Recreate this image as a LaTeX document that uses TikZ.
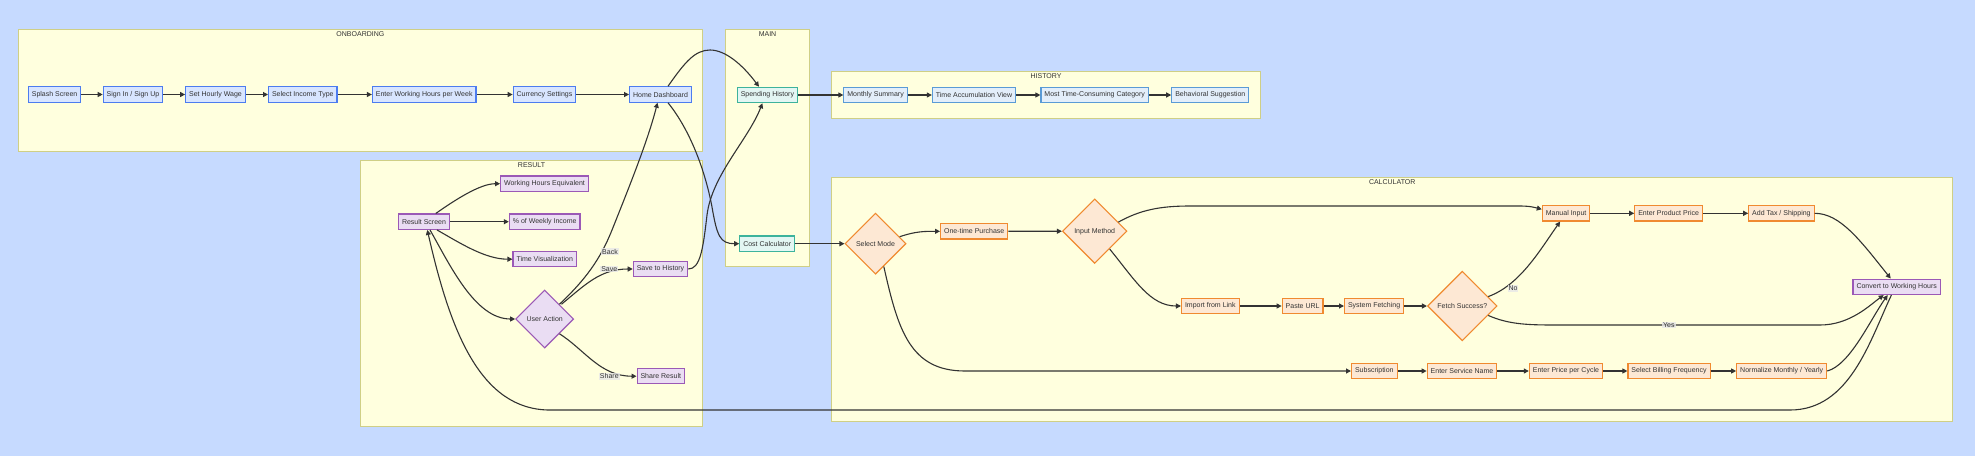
\documentclass[tikz,border=0pt]{standalone}
\usepackage{fontspec}
\setmainfont{Liberation Sans}
\usepackage{tikz}
\usetikzlibrary{arrows.meta}
\usetikzlibrary{shapes.geometric}
\definecolor{bgblue}{HTML}{C6DAFF}
\definecolor{clusterfill}{HTML}{FFFFDE}
\definecolor{clusterline}{HTML}{CFCF86}
\definecolor{textgrey}{HTML}{333333}
\definecolor{onbfill}{HTML}{D8E5FF}
\definecolor{onbline}{HTML}{4C7CF0}
\definecolor{mainfill}{HTML}{E3F6F3}
\definecolor{mainline}{HTML}{3DB39C}
\definecolor{histfill}{HTML}{E3EEFA}
\definecolor{histline}{HTML}{5A9BD6}
\definecolor{resfill}{HTML}{EADDF3}
\definecolor{resline}{HTML}{9B59B6}
\definecolor{calcfill}{HTML}{FDE8D4}
\definecolor{calcline}{HTML}{F08A30}
\definecolor{labelgrey}{HTML}{E8E8E8}
\tikzset{cluster/.style={draw=clusterline, fill=clusterfill, line width=0.9pt}}
\tikzset{clustertitle/.style={anchor=north, inner sep=1pt, text=textgrey, font=\fontsize{7}{8}\selectfont}}
\tikzset{box/.style={draw, line width=1.1pt, minimum height=15.4pt, inner xsep=3.5pt, inner ysep=0pt, text=textgrey, font=\fontsize{7}{8}\selectfont}}
\tikzset{onbbox/.style={box, draw=onbline, fill=onbfill}}
\tikzset{mainbox/.style={box, draw=mainline, fill=mainfill}}
\tikzset{histbox/.style={box, draw=histline, fill=histfill}}
\tikzset{resbox/.style={box, draw=resline, fill=resfill}}
\tikzset{calcbox/.style={box, draw=calcline, fill=calcfill}}
\tikzset{choice/.style={diamond, aspect=1, draw, line width=1.1pt, inner sep=0pt, text=textgrey, font=\fontsize{7}{8}\selectfont}}
\tikzset{flow/.style={draw=textgrey, line width=1.1pt, -{Triangle[length=5pt,width=5pt]}}}
\tikzset{lbl/.style={fill=labelgrey, fill opacity=0.8, text opacity=1, inner sep=1pt, text=textgrey, font=\fontsize{7}{8}\selectfont}}

\begin{document}
\begin{tikzpicture}[x=1pt, y=-1pt]
		\fill[bgblue] (0,0) rectangle (1975,456);

		% Clusters
		\draw[cluster] (18.4,29.3) rectangle (702.5,151);
		\node[clustertitle] (tonb) at (360.4,30) {ONBOARDING};
		\draw[cluster] (725.5,29.3) rectangle (809.5,266.7);
		\node[clustertitle] (tmain) at (767.5,30) {MAIN};
		\draw[cluster] (831.6,71.7) rectangle (1260.7,118);
		\node[clustertitle] (thist) at (1046,72.4) {HISTORY};
		\draw[cluster] (360.3,160.3) rectangle (702.7,426.3);
		\node[clustertitle] (tres) at (531.5,161) {RESULT};
		\draw[cluster] (831.9,177.3) rectangle (1952.6,421.7);
		\node[clustertitle] (tcalc) at (1392.2,178) {CALCULATOR};

		% Onboarding
		\node[onbbox] (splash) at (54.6,94.5) {Splash Screen};
		\node[onbbox] (signin) at (133,94.5) {Sign In / Sign Up};
		\node[onbbox] (wage) at (215.5,94.5) {Set Hourly Wage};
		\node[onbbox] (income) at (302.8,94.5) {Select Income Type};
		\node[onbbox] (hours) at (424.2,94.5) {Enter Working Hours per Week};
		\node[onbbox] (currency) at (544.5,94.5) {Currency Settings};
		\node[onbbox] (home) at (660.5,94.5) {Home Dashboard};

		% Main
		\node[mainbox] (spending) at (767.4,95) {Spending History};
		\node[mainbox] (costcalc) at (767.2,243.7) {Cost Calculator};

		% History
		\node[histbox] (monthly) at (875.6,95) {Monthly Summary};
		\node[histbox] (accum) at (974,95) {Time Accumulation View};
		\node[histbox] (category) at (1094.7,95) {Most Time-Consuming Category};
		\node[histbox] (suggest) at (1210.3,95) {Behavioral Suggestion};

		% Result
		\node[resbox] (result) at (424,221.7) {Result Screen};
		\node[resbox] (equiv) at (544.5,183.7) {Working Hours Equivalent};
		\node[resbox] (weekly) at (544.7,221.7) {\% of Weekly Income};
		\node[resbox] (visual) at (544.7,259.2) {Time Visualization};
		\node[choice, draw=resline, fill=resfill, minimum width=58pt, minimum height=58pt] (action) at (544.7,319) {User Action};
		\node[resbox] (savehist) at (660.5,269) {Save to History};
		\node[resbox] (share) at (660.8,376.2) {Share Result};

		% Calculator
		\node[choice, draw=calcline, fill=calcfill, minimum width=61pt, minimum height=61pt] (mode) at (875.5,243.7) {Select Mode};
		\node[calcbox] (onetime) at (974.2,231.3) {One-time Purchase};
		\node[choice, draw=calcline, fill=calcfill, minimum width=64.5pt, minimum height=64.5pt] (method) at (1094.7,231.2) {Input Method};
		\node[calcbox] (import) at (1210.3,306) {Import from Link};
		\node[calcbox] (paste) at (1302.6,306) {Paste URL};
		\node[calcbox] (fetching) at (1374.1,306) {System Fetching};
		\node[choice, draw=calcline, fill=calcfill, minimum width=69.6pt, minimum height=69.6pt] (fetchok) at (1462.3,306) {Fetch Success?};
		\node[calcbox] (manual) at (1566.1,213.3) {Manual Input};
		\node[calcbox] (price) at (1668.6,213.3) {Enter Product Price};
		\node[calcbox] (tax) at (1781.4,213.3) {Add Tax / Shipping};
		\node[calcbox] (subscr) at (1374.3,371) {Subscription};
		\node[calcbox] (service) at (1462,371) {Enter Service Name};
		\node[calcbox] (cycle) at (1565.9,371) {Enter Price per Cycle};
		\node[calcbox] (billing) at (1669,371) {Select Billing Frequency};
		\node[calcbox] (normalize) at (1781.7,371) {Normalize Monthly / Yearly};
		\node[resbox] (convert) at (1896.7,286.8) {Convert to Working Hours};

		% straight chains
		\foreach \a/\b in {splash/signin, signin/wage, wage/income, income/hours, hours/currency, currency/home,
			spending/monthly, monthly/accum, accum/category, category/suggest,
			result/weekly, costcalc/mode, onetime/method, import/paste, paste/fetching, fetching/fetchok,
			manual/price, price/tax, subscr/service, service/cycle, cycle/billing, billing/normalize}{
			\draw[flow] (\a) -- (\b);
		}

		% curved links
		\draw[flow] ([xshift=7.5pt]home.north) .. controls (685,62) and (695,50) .. (710,50)
			.. controls (725,50) and (742,64) .. ([xshift=-8.4pt]spending.north);
		\draw[flow] ([xshift=7.5pt]home.south) .. controls (690,130) and (705,170) .. (712,207)
			.. controls (717,236) and (720,243.7) .. (costcalc.west);
		\draw[flow] (savehist.east) .. controls (700,269) and (703,250) .. (707,215)
			.. controls (712,175) and (748,140) .. ([xshift=-5pt]spending.south);
		\draw[flow] (result) .. controls (455,200) and (480,183.7) .. (equiv.west);
		\draw[flow] ([xshift=13pt]result.south) .. controls (460,243) and (485,259.2) .. (visual.west);
		\draw[flow] ([xshift=6pt]result.south) .. controls (450,265) and (475,319) .. (action.west);
		\draw[flow] (action.north east) .. controls (585,280) and (600,260) .. (612,230)
			.. controls (630,185) and (648,140) .. ([xshift=-3pt]home.south);
		\draw[flow] ([shift={(2pt,0pt)}]action.north east) .. controls (585,285) and (600,269) .. (savehist.west);
		\draw[flow] (action.south east) .. controls (585,350) and (600,376.2) .. (share.west);
		\draw[flow] ([xshift=-5.3pt]convert.south) .. controls (1870,340) and (1850,410) .. (1790,410)
			-- (550,410) .. controls (480,410) and (450,330) .. ([xshift=3.3pt]result.south);
		\draw[flow] (mode.16) .. controls (915,231.3) and (925,231.3) .. (onetime.west);
		\draw[flow] (mode.-70) .. controls (898,330) and (910,371) .. (965,371) -- (subscr.west);
		\draw[flow] (method.21) .. controls (1140,210) and (1160,206) .. (1190,206)
			-- (1520,206) .. controls (1530,206) and (1535,207.5) .. ([yshift=4pt]manual.west);
		\draw[flow] (method.-50) .. controls (1135,280) and (1150,306) .. (import.west);
		\draw[flow] (fetchok.20) .. controls (1520,285) and (1540,250) .. ([xshift=-6pt]manual.south);
		\draw[flow] (fetchok.-20) .. controls (1510,325) and (1530,325) .. (1560,325)
			-- (1820,325) .. controls (1850,325) and (1870,305) .. ([xshift=-13pt]convert.south);
		\draw[flow] (tax.east) .. controls (1840,213.3) and (1860,240) .. ([xshift=-6pt]convert.north);
		\draw[flow] (normalize.east) .. controls (1850,365) and (1870,320) .. ([xshift=-9pt]convert.south);

		% edge labels
		\node[lbl] (lback) at (610,251.7) {Back};
		\node[lbl] (lsave) at (609.3,269) {Save};
		\node[lbl] (lshare) at (609.3,376.3) {Share};
		\node[lbl] (lno) at (1513,288.3) {No};
		\node[lbl] (lyes) at (1668.8,325) {Yes};
	\end{tikzpicture}
\end{document}
